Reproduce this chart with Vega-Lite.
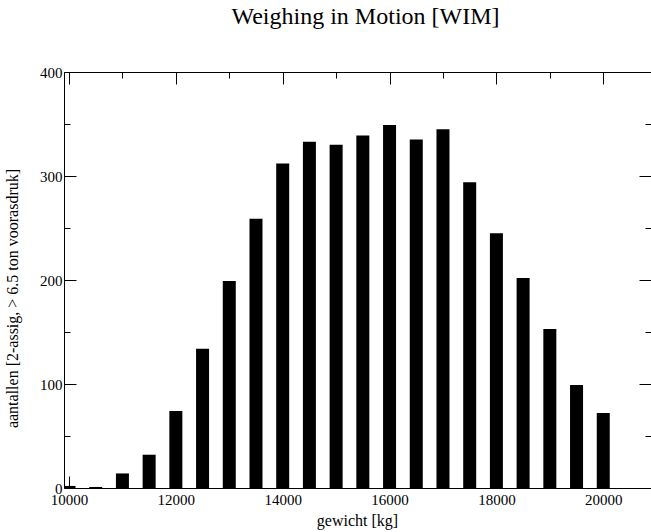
{
  "$schema": "https://vega.github.io/schema/vega-lite/v6.json",
  "width": 587,
  "height": 416,
  "autosize": {"type": "none"},
  "padding": {"left": 64, "top": 72, "right": 0, "bottom": 44},
  "background": "white",
  "config": {
    "font": "'Liberation Serif', 'Times New Roman', Times, serif",
    "view": {"stroke": null},
    "axis": {
      "grid": false,
      "domainColor": "black",
      "tickColor": "black",
      "labelColor": "black",
      "titleColor": "black",
      "labelFont": "'Liberation Serif', 'Times New Roman', Times, serif",
      "titleFont": "'Liberation Serif', 'Times New Roman', Times, serif",
      "labelFontSize": 15,
      "titleFontSize": 16,
      "titleFontWeight": "normal",
      "domainWidth": 1,
      "tickWidth": 1,
      "format": "d"
    }
  },
  "title": {
    "text": "Weighing in Motion [WIM]",
    "font": "'Liberation Serif', 'Times New Roman', Times, serif",
    "fontSize": 24,
    "fontWeight": "normal",
    "color": "black",
    "anchor": "middle",
    "dx": 8,
    "offset": 36
  },
  "data": {
    "values": [
      {"w": 10000, "n": 2},
      {"w": 10500, "n": 1},
      {"w": 11000, "n": 14},
      {"w": 11500, "n": 32},
      {"w": 12000, "n": 74},
      {"w": 12500, "n": 134},
      {"w": 13000, "n": 199},
      {"w": 13500, "n": 259},
      {"w": 14000, "n": 312},
      {"w": 14500, "n": 333},
      {"w": 15000, "n": 330},
      {"w": 15500, "n": 339},
      {"w": 16000, "n": 349},
      {"w": 16500, "n": 335},
      {"w": 17000, "n": 345},
      {"w": 17500, "n": 294},
      {"w": 18000, "n": 245},
      {"w": 18500, "n": 202},
      {"w": 19000, "n": 153},
      {"w": 19500, "n": 99},
      {"w": 20000, "n": 72}
    ]
  },
  "resolve": {"axis": {"x": "independent", "y": "independent"}},
  "layer": [
    {
      "mark": {"type": "bar", "color": "black", "width": 13, "clip": true},
      "encoding": {
        "x": {
          "field": "w", "type": "quantitative",
          "scale": {"domain": [10000, 20800], "nice": false, "zero": false},
          "axis": {"orient": "bottom", "values": [10000, 12000, 14000, 16000, 18000, 20000], "ticks": false, "labelPadding": 4, "title": "gewicht [kg]", "titleX": 293, "titleY": 32, "titleBaseline": "middle", "titleAlign": "center", "labelFlush": false, "labelOverlap": false}
        },
        "y": {
          "field": "n", "type": "quantitative",
          "scale": {"domain": [0, 400], "nice": false, "zero": true},
          "axis": {"orient": "left", "values": [0, 100, 200, 300, 400], "ticks": false, "labelPadding": 2, "title": "aantallen [2-assig, > 6.5 ton voorasdruk]", "titleX": -52, "titleY": 226, "titleBaseline": "middle", "titleAlign": "center", "labelFlush": false, "labelOverlap": false}
        }
      }
    },
    {
      "mark": {"type": "bar", "opacity": 0},
      "encoding": {
        "x": {"field": "w", "type": "quantitative", "axis": {"orient": "bottom", "values": [10000, 12000, 14000, 16000, 18000, 20000], "tickSize": -12, "labels": false, "domain": false, "title": null}},
        "y": {"field": "n", "type": "quantitative", "axis": {"orient": "left", "values": [0, 100, 200, 300, 400], "tickSize": -12, "labels": false, "domain": false, "title": null}}
      }
    },
    {
      "mark": {"type": "bar", "opacity": 0},
      "encoding": {
        "x": {"field": "w", "type": "quantitative", "axis": {"orient": "bottom", "values": [11000, 13000, 15000, 17000, 19000], "tickSize": -6, "labels": false, "domain": false, "title": null}},
        "y": {"field": "n", "type": "quantitative", "axis": {"orient": "left", "values": [50, 150, 250, 350], "tickSize": -6, "labels": false, "domain": false, "title": null}}
      }
    },
    {
      "mark": {"type": "bar", "opacity": 0},
      "encoding": {
        "x": {"field": "w", "type": "quantitative", "axis": {"orient": "top", "values": [10000, 12000, 14000, 16000, 18000, 20000], "tickSize": -12, "labels": false, "domain": true, "title": null}},
        "y": {"field": "n", "type": "quantitative", "axis": {"orient": "right", "values": [0, 100, 200, 300, 400], "tickSize": -12, "labels": false, "domain": true, "title": null}}
      }
    },
    {
      "mark": {"type": "bar", "opacity": 0},
      "encoding": {
        "x": {"field": "w", "type": "quantitative", "axis": {"orient": "top", "values": [11000, 13000, 15000, 17000, 19000], "tickSize": -6, "labels": false, "domain": false, "title": null}},
        "y": {"field": "n", "type": "quantitative", "axis": {"orient": "right", "values": [50, 150, 250, 350], "tickSize": -6, "labels": false, "domain": false, "title": null}}
      }
    }
  ]
}
